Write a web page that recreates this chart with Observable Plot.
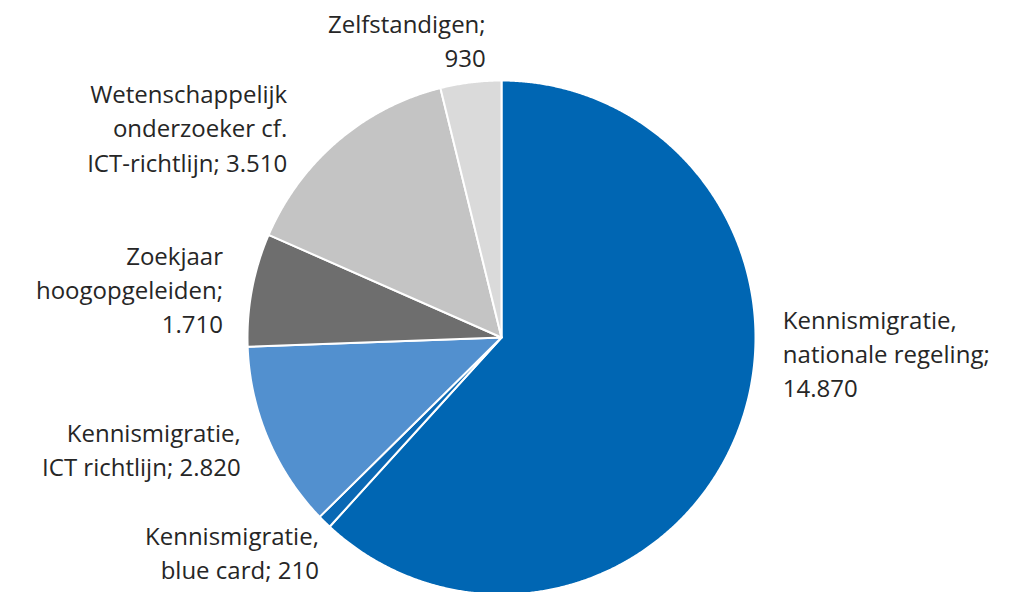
<!DOCTYPE html>
<html>
<head>
<meta charset="utf-8">
<script src="https://cdn.jsdelivr.net/npm/d3@7"></script>
<script src="https://cdn.jsdelivr.net/npm/@observablehq/plot@0.6"></script>
<style>
  html, body { margin: 0; padding: 0; background: #fff; overflow: hidden; }
  #chart { width: 1018px; height: 592px; }
</style>
</head>
<body>
<div id="chart"></div>
<script>
// ---- data ----
const categories = [
  "Kennismigratie, nationale regeling",
  "Kennismigratie, blue card",
  "Kennismigratie, ICT richtlijn",
  "Zoekjaar hoogopgeleiden",
  "Wetenschappelijk onderzoeker cf. ICT-richtlijn",
  "Zelfstandigen"
];
const values = [14870, 210, 2820, 1710, 3510, 930];
const labelPrefixes = [
  "Kennismigratie,\nnationale regeling;\n",
  "Kennismigratie,\nblue card; ",
  "Kennismigratie,\nICT richtlijn; ",
  "Zoekjaar\nhoogopgeleiden;\n",
  "Wetenschappelijk\nonderzoeker cf.\nICT-richtlijn; ",
  "Zelfstandigen;\n"
];
const colors = ["#0066b3", "#0a68b4", "#5290cf", "#6e6e6e", "#c4c4c4", "#dadada"];

// ---- layout (label nudges in px, anchors) ----
const labelLayout = [
  {anchor: "start", dx: 21, dy: -88},
  {anchor: "end", dx: 12, dy: 11},
  {anchor: "end", dx: -4, dy: -1},
  {anchor: "end", dx: -4, dy: 3},
  {anchor: "end", dx: -34, dy: 5},
  {anchor: "end", dx: 18, dy: -18}
];

const W = 1018, H = 592;
const cx = 501, cy = 337, rx = 254, ry = 257;

const nl = d3.formatLocale({decimal: ",", thousands: ".", grouping: [3], currency: ["€", ""]});
const fmt = nl.format(",d");

const arcs = d3.pie().sort(null).value(d => d)(values);

// polygon points for each slice (unit circle, y up)
const pts = [];
arcs.forEach((a, i) => {
  const name = categories[i];
  pts.push({name, x: 0, y: 0});
  const n = Math.max(2, Math.ceil((a.endAngle - a.startAngle) / 0.005));
  for (let k = 0; k <= n; k++) {
    const t = a.startAngle + (a.endAngle - a.startAngle) * k / n;
    pts.push({name, x: Math.sin(t), y: Math.cos(t)});
  }
  pts.push({name, x: 0, y: 0});
});

const labels = arcs.map((a, i) => {
  const m = (a.startAngle + a.endAngle) / 2;
  return {name: categories[i], text: labelPrefixes[i] + fmt(values[i]), x: 1.1 * Math.sin(m), y: 1.1 * Math.cos(m)};
});

const textMarks = labels.map((l, i) => Plot.text([l], {
  x: "x", y: "y", text: "text",
  textAnchor: labelLayout[i].anchor,
  lineAnchor: "middle",
  lineHeight: 1.42,
  dx: labelLayout[i].dx, dy: labelLayout[i].dy,
  fontSize: 24,
  fill: "#262626"
}));

const plot = Plot.plot({
  width: W, height: H,
  margin: 0,
  style: {fontFamily: "'Open Sans', sans-serif", background: "#fff"},
  x: {domain: [-cx / rx, (W - cx) / rx], axis: null},
  y: {domain: [-(H - cy) / ry, cy / ry], axis: null},
  color: {domain: categories, range: colors},
  marks: [
    Plot.line(pts, {x: "x", y: "y", z: "name", fill: "name", stroke: "#fff", strokeWidth: 2, strokeLinejoin: "round", curve: "linear"}),
    ...textMarks
  ]
});
document.getElementById("chart").appendChild(plot);
</script>
</body>
</html>
